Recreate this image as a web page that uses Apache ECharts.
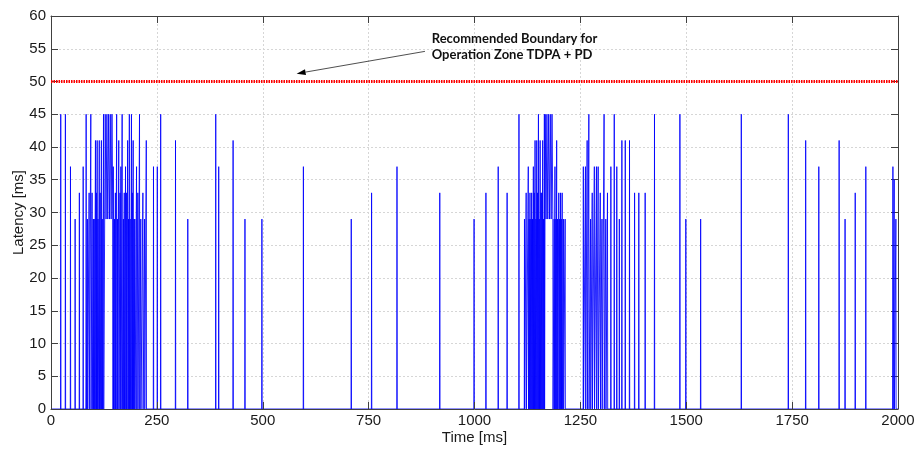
<!DOCTYPE html>
<html><head><meta charset="utf-8">
<script src="https://cdn.jsdelivr.net/npm/echarts@6/dist/echarts.min.js"></script>
<style>html,body{margin:0;padding:0;background:#fff}#c{width:917px;height:449px}</style>
</head><body><div id="c"></div>
<script>
// ---- data ----
const timeRange = [0, 2000];      // ms
const timeInterval = 250;
const latencyRange = [0, 60];
const latencyInterval = 5;
const boundaryValue = 50;         // recommended boundary, ms
const annotationLines = ['Recommended Boundary for', 'Operation Zone TDPA + PD'];
const arrowFrom = [883, 54.6];    // [time, latency]
const arrowTo = [580, 51.2];
const textAnchor = [899, 55.3];

// isolated latency spikes (latency returns to 0 ms between them)
const spikeTimes = [
  23,34,46,57,67,76,83,86,90,94,97,100,102,105,107,109,111,114,116,119,121,124,
  147,150,152,155,157,160,163,165,168,171,173,176,178,181,183,185,187,190,192,194,196,198,
  202,205,209,212,217,221,225,242,251,259,
  294,323,389,396,430,458,498,596,709,757,817,918,999,1027,1056,1077,1105,1118,
  1122,1127,1129,1131,1133,1135,1137,1139,1141,1143,1145,1147,1149,1151,1153,1155,1157,1159,1161,1163,1165,
  1188,1190,1192,1194,1196,1199,1201,1203,1205,1207,1210,1214,
  1257,1262,1266,1270,1274,1278,1283,1288,1292,1297,1301,1306,1310,1314,1322,1330,1336,1342,1348,1356,1366,1378,1388,1403,
  1425,1485,1499,1534,1630,1741,1782,1813,1861,1875,1899,1924,1988,1991,1995
];
const spikeValues = [
  45,45,37,29,33,37,45,29,33,45,33,29,29,41,33,41,29,41,33,41,29,45,
  37,29,33,45,29,41,33,37,45,29,33,37,33,41,29,45,29,45,33,41,29,29,
  37,33,45,29,33,29,41,37,37,45,
  41,29,45,37,41,29,29,37,29,33,37,33,29,33,37,33,45,29,
  33,37,29,33,29,33,29,37,33,41,29,41,33,45,29,41,33,33,41,29,45,
  29,37,29,41,29,33,29,33,29,33,29,29,
  37,37,41,45,29,33,37,37,37,33,29,45,29,33,37,45,37,29,41,41,41,33,33,33,
  45,45,29,29,45,45,41,37,41,29,33,37,37,35,29
];
// bursts where latency oscillates without returning to 0 ms
const burst1Times  = [128,130,132,134,136,138,140,142,144,146];
const burst1Values = [ 45, 29, 45, 29, 45, 29, 45, 29, 45, 29];
const burst2Times  = [1167,1169,1171,1173,1175,1177,1179,1181,1183,1185];
const burst2Values = [  45,  29,  45,  29,  45,  29,  45,  29,  45,  29];

// assemble the latency trace from the arrays above
const events = [];
spikeTimes.forEach((t, i) => events.push({t0: t, pts: [[t, spikeValues[i]]]}));
[[burst1Times, burst1Values], [burst2Times, burst2Values]].forEach(([ts, vs]) =>
  events.push({t0: ts[0], pts: ts.map((t, i) => [t, vs[i]])}));
events.sort((a, b) => a.t0 - b.t0);
const trace = [[timeRange[0], 0]];
events.forEach(e => {
  const first = e.pts[0][0], last = e.pts[e.pts.length - 1][0];
  trace.push([first - 0.5, 0]);
  e.pts.forEach(p => trace.push(p));
  trace.push([last + 0.5, 0]);
});
trace.push([timeRange[1], 0]);

const axisColor = '#404040';
const gridColor = '#d6d6d6';
const font = 'Liberation Sans, Arial, sans-serif';
const plain = v => String(v);

const chart = echarts.init(document.getElementById('c'), null, {renderer: 'canvas'});
const tickCommon = {show: true, inside: true, length: 7, lineStyle: {color: axisColor}};
chart.setOption({
  animation: false,
  backgroundColor: '#fff',
  grid: {left: 51, right: 19, top: 16, bottom: 40, containLabel: false, outerBoundsMode: 'none'},
  xAxis: [
    {type: 'value', position: 'bottom', min: timeRange[0], max: timeRange[1], interval: timeInterval, z: 10,
     name: 'Time [ms]', nameLocation: 'middle', nameGap: 21, nameMoveOverlap: false,
     nameTextStyle: {fontFamily: font, fontSize: 15, color: '#1a1a1a'},
     axisLine: {show: true, onZero: false, lineStyle: {color: axisColor}},
     axisTick: tickCommon,
     axisLabel: {fontFamily: font, fontSize: 15, color: '#1a1a1a', margin: 4, formatter: plain},
     splitLine: {show: false}},
    {type: 'value', position: 'top', min: timeRange[0], max: timeRange[1], interval: timeInterval,
     axisLine: {show: true, onZero: false, lineStyle: {color: axisColor}},
     axisTick: tickCommon, axisLabel: {show: false},
     splitLine: {show: true, lineStyle: {color: gridColor, type: [2, 2]}}}
  ],
  yAxis: [
    {type: 'value', position: 'left', min: latencyRange[0], max: latencyRange[1], interval: latencyInterval,
     name: 'Latency [ms]', nameLocation: 'middle', nameGap: 25, nameMoveOverlap: false,
     nameTextStyle: {fontFamily: font, fontSize: 15, color: '#1a1a1a'},
     axisLine: {show: true, onZero: false, lineStyle: {color: axisColor}},
     axisTick: tickCommon,
     axisLabel: {fontFamily: font, fontSize: 15, color: '#1a1a1a', margin: 5, formatter: plain},
     splitLine: {show: true, lineStyle: {color: gridColor, type: [2, 2]}}},
    {type: 'value', position: 'right', min: latencyRange[0], max: latencyRange[1], interval: latencyInterval,
     axisLine: {show: true, onZero: false, lineStyle: {color: axisColor}},
     axisTick: tickCommon, axisLabel: {show: false}, splitLine: {show: false}}
  ],
  series: [
    {type: 'line', xAxisIndex: 0, yAxisIndex: 0, data: trace, showSymbol: false, symbol: 'none',
     sampling: null, lineStyle: {color: '#0000ff', width: 1, opacity: 0.85}, z: 2},
    {type: 'line', xAxisIndex: 0, yAxisIndex: 0, data: [[timeRange[0], boundaryValue], [timeRange[1], boundaryValue]],
     showSymbol: false, symbol: 'none', lineStyle: {color: '#ff0000', width: 3, type: [1.5, 1]}, z: 3}
  ]
});

const P = p => chart.convertToPixel({xAxisIndex: 0, yAxisIndex: 0}, p);
const a = P(arrowFrom), b = P(arrowTo), tp = P(textAnchor);
const dx = b[0] - a[0], dy = b[1] - a[1], len = Math.hypot(dx, dy);
const ux = dx / len, uy = dy / len, hl = 9, hw = 3;
const base = [b[0] - ux * hl, b[1] - uy * hl];
chart.setOption({
  graphic: [
    {type: 'line', shape: {x1: a[0], y1: a[1], x2: base[0], y2: base[1]}, style: {stroke: '#222', lineWidth: 0.8}, z: 20},
    {type: 'polygon', shape: {points: [[b[0], b[1]], [base[0] - uy * hw, base[1] + ux * hw], [base[0] + uy * hw, base[1] - ux * hw]]},
     style: {fill: '#000'}, z: 20},
    {type: 'text', x: tp[0], y: tp[1], z: 20,
     style: {text: annotationLines.join('\n'), fontFamily: 'Lato, sans-serif', fontWeight: 'bold', fontSize: 13,
             lineHeight: 16.7, fill: '#111', align: 'left', verticalAlign: 'middle'}}
  ]
});
</script></body></html>
